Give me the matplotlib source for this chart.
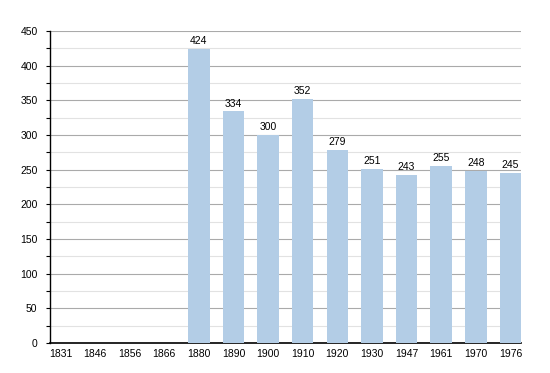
import numpy as np
import matplotlib.pyplot as plt
from matplotlib.ticker import MultipleLocator

# Data
years = ["1831", "1846", "1856", "1866", "1880", "1890", "1900",
         "1910", "1920", "1930", "1947", "1961", "1970", "1976"]
pop = [None, None, None, None, 424, 334, 300, 352, 279, 251, 243, 255, 248, 245]

plt.rcParams['font.family'] = ['Liberation Sans', 'DejaVu Sans']

fig = plt.figure(figsize=(5.5, 3.73), dpi=100)
ax = fig.add_axes([0.091, 0.0804, 0.856, 0.8366])

x = np.arange(len(years))
for i, v in enumerate(pop):
    if v is None:
        continue
    ax.bar(x[i], v, width=0.62, color='#b3cde6', zorder=3)
    ax.text(x[i], v + 4, str(v), ha='center', va='bottom', fontsize=7.5, zorder=4)

ax.set_xlim(-0.3, 13.3)
ax.set_ylim(0, 450)
ax.set_xticks(x)
ax.set_xticklabels(years, fontsize=7.5)
ax.yaxis.set_major_locator(MultipleLocator(50))
ax.yaxis.set_minor_locator(MultipleLocator(25))
ax.tick_params(axis='y', labelsize=7.5, length=3, width=0.8, pad=6)
ax.tick_params(axis='y', which='minor', length=3, width=0.8)
ax.tick_params(axis='x', length=0, pad=4)

ax.grid(axis='y', which='major', color='#aaaaaa', linewidth=0.8, zorder=0)
ax.grid(axis='y', which='minor', color='#e2e2e2', linewidth=0.8, zorder=0)

for s in ['top', 'right']:
    ax.spines[s].set_visible(False)
ax.spines['left'].set_linewidth(1.0)
ax.spines['bottom'].set_linewidth(1.2)

plt.savefig("out.png", dpi=100)
